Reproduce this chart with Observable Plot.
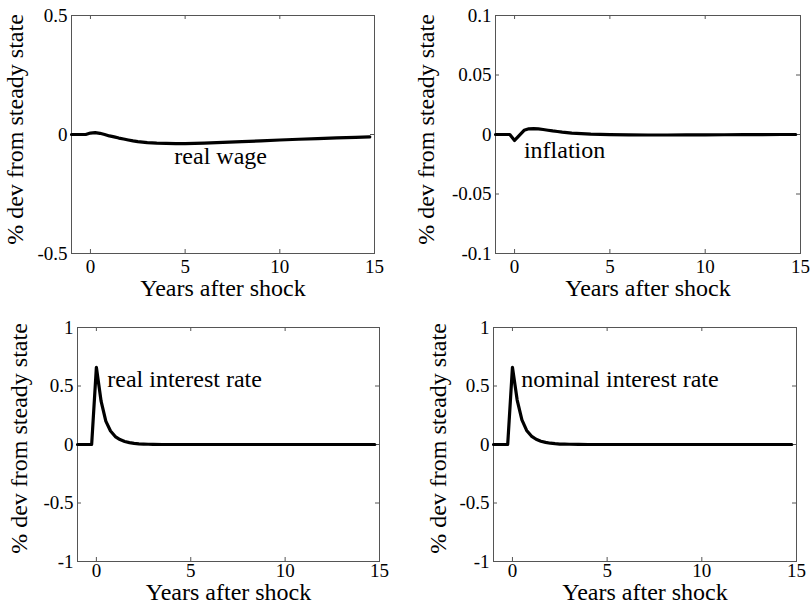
<!DOCTYPE html>
<html><head><meta charset="utf-8">
<script src="https://cdn.jsdelivr.net/npm/d3@7"></script>
<script src="https://cdn.jsdelivr.net/npm/@observablehq/plot@0.6"></script>
<style>
body{margin:0;background:#fff}
#chart{position:relative;width:812px;height:606px;overflow:hidden;background:#fff}
#chart svg{position:absolute;background:transparent}
#chart svg text{font-family:"Liberation Serif","Tinos","Times New Roman","DejaVu Serif","Noto Serif",serif !important}
</style>
</head><body><div id="chart"></div>
<script>
// time axis (years after shock)
const years = [-1, -0.75, -0.5, -0.25, 0, 0.25, 0.5, 0.75, 1, 1.25, 1.5, 1.75, 2, 2.25, 2.5, 2.75, 3, 3.5, 4, 4.5, 5, 6, 7, 8, 9, 10, 11, 12, 13, 14, 14.75];
const realWage = [0, 0, 0, 0, 0.006, 0.008, 0.005, 0.0, -0.006, -0.010, -0.015, -0.019, -0.023, -0.027, -0.030, -0.032, -0.034, -0.036, -0.037, -0.038, -0.038, -0.036, -0.033, -0.030, -0.027, -0.023, -0.020, -0.017, -0.014, -0.012, -0.010];
const inflation = [0, 0, 0, 0, -0.005, -0.0008, 0.0035, 0.0048, 0.005, 0.0047, 0.0042, 0.0036, 0.003, 0.0025, 0.002, 0.0016, 0.0012, 0.0007, 0.0003, 0.0001, -0.0001, -0.0003, -0.0004, -0.0004, -0.0003, -0.0003, -0.0002, -0.0001, -0.0001, 0, 0];
const realRate = [0, 0, 0, 0, 0.66, 0.37, 0.20, 0.115, 0.068, 0.042, 0.026, 0.016, 0.010, 0.006, 0.004, 0.002, 0.001, 0, 0, 0, 0, 0, 0, 0, 0, 0, 0, 0, 0, 0, 0];
const nominalRate = [0, 0, 0, 0, 0.66, 0.38, 0.21, 0.12, 0.072, 0.045, 0.028, 0.018, 0.011, 0.007, 0.004, 0.003, 0.002, 0.001, 0, 0, 0, 0, 0, 0, 0, 0, 0, 0, 0, 0, 0];

const seriesNames = ["real wage", "inflation", "real interest rate", "nominal interest rate"];
const xTicks = [0, 5, 10, 15];
const yTicksWage = [-0.5, 0, 0.5];
const yTicksInfl = [-0.1, -0.05, 0, 0.05, 0.1];
const yTicksRate = [-1, -0.5, 0, 0.5, 1];
const xLabel = "Years after shock";
const yLabel = "% dev from steady state";

const FONT = '"Liberation Serif", Tinos, "Times New Roman", "DejaVu Serif", "Noto Serif", serif';
const AX = "#555";
const W = 406, H = 303;

const panels = [
  {left: 0, top: 0, ml: 71, mr: 32, mt: 15, mb: 50, dom: [-0.5, 0.5], ticks: yTicksWage, vals: realWage, name: seriesNames[0], lx: 4.43, ly: -0.091, ydx: -56, ydy: -5, xdy: 35, xpad: 6},
  {left: 406, top: 0, ml: 89, mr: 12, mt: 15, mb: 50, dom: [-0.1, 0.1], ticks: yTicksInfl, vals: inflation, name: seriesNames[1], lx: 0.49, ly: -0.0133, ydx: -69, ydy: -5, xdy: 35, xpad: 6},
  {left: 0, top: 303, ml: 77, mr: 27, mt: 24, mb: 45, dom: [-1, 1], ticks: yTicksRate, vals: realRate, name: seriesNames[2], lx: 0.58, ly: 0.556, ydx: -58, ydy: -6, xdy: 31, xpad: 2},
  {left: 406, top: 303, ml: 87, mr: 16, mt: 24, mb: 45, dom: [-1, 1], ticks: yTicksRate, vals: nominalRate, name: seriesNames[3], lx: 0.47, ly: 0.556, ydx: -55.6, ydy: -6, xdy: 31, xpad: 2}
];

const fmt = d => String(d);
const root = document.getElementById("chart");

for (const p of panels) {
  const pw = W - p.ml - p.mr, ph = H - p.mt - p.mb;
  const data = years.map((t, i) => ({t, v: p.vals[i]}));
  const svg = Plot.plot({
    width: W, height: H,
    marginLeft: p.ml, marginRight: p.mr, marginTop: p.mt, marginBottom: p.mb,
    x: {domain: [-1, 15]},
    y: {domain: p.dom},
    style: {fontFamily: FONT, fontSize: "19px", color: "black", background: "transparent", overflow: "visible"},
    marks: [
      Plot.frame({stroke: AX, strokeWidth: 1}),
      Plot.ruleX(xTicks, {x: d => d, insetTop: ph - 4, stroke: AX}),
      Plot.ruleX(xTicks, {x: d => d, insetBottom: ph - 4, stroke: AX}),
      Plot.ruleY(p.ticks, {y: d => d, insetRight: pw - 4, stroke: AX}),
      Plot.ruleY(p.ticks, {y: d => d, insetLeft: pw - 4, stroke: AX}),
      Plot.axisX(xTicks, {tickSize: 0, tickPadding: p.xpad, tickFormat: fmt, label: null, fontSize: 19, fontFamily: FONT}),
      Plot.axisY(p.ticks, {tickSize: 0, tickPadding: 4, tickFormat: fmt, label: null, fontSize: 19, fontFamily: FONT}),
      Plot.line(data, {x: "t", y: "v", stroke: "black", strokeWidth: 3.2}),
      Plot.text([p.name], {x: () => p.lx, y: () => p.ly, text: d => d, textAnchor: "start", lineAnchor: "middle", fontSize: 24, fontFamily: FONT}),
      Plot.text([yLabel], {frameAnchor: "left", text: d => d, rotate: -90, textAnchor: "middle", lineAnchor: "middle", dx: p.ydx, dy: p.ydy, fontSize: 24, fontFamily: FONT}),
      Plot.text([xLabel], {frameAnchor: "bottom", text: d => d, textAnchor: "middle", lineAnchor: "middle", dy: p.xdy, fontSize: 24, fontFamily: FONT})
    ]
  });
  svg.style.left = p.left + "px";
  svg.style.top = p.top + "px";
  root.appendChild(svg);
}
</script>
</body></html>
